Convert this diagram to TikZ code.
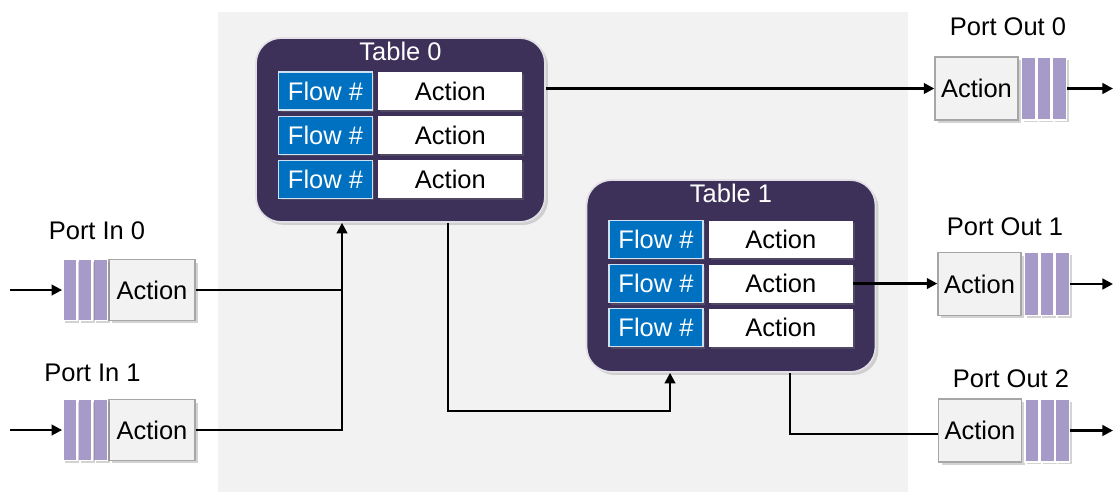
\documentclass[tikz,border=0pt]{standalone}
\usepackage{fontspec}
\setmainfont{Liberation Sans}
\usetikzlibrary{arrows.meta, positioning, shadows}
\definecolor{tablepurple}{HTML}{3D3059}
\definecolor{flowblue}{HTML}{0070C0}
\definecolor{queuepurple}{HTML}{A69AC9}
\definecolor{panelgray}{HTML}{F2F2F2}
\definecolor{edgegray}{HTML}{A6A6A6}

\begin{document}
\begin{tikzpicture}[
    x=0.02cm, y=-0.02cm,
    every node/.style={font=\fontsize{14.5}{17}\selectfont, inner sep=0pt},
    tablebox/.style={draw=white!85!tablepurple, line width=1pt, fill=tablepurple, rounded corners=0.5cm, minimum width=5.78cm, drop shadow={opacity=0.3, shadow xshift=0.06cm, shadow yshift=-0.06cm}},
    tabletitle/.style={text=white},
    flowcell/.style={draw=white!80!flowblue, line width=0.6pt, fill=flowblue, text=white, minimum width=1.88cm, minimum height=0.76cm, drop shadow={opacity=0.3, shadow xshift=0.04cm, shadow yshift=-0.04cm}},
    actcell/.style={fill=white, minimum width=2.88cm, minimum height=0.76cm, drop shadow={opacity=0.3, shadow xshift=0.04cm, shadow yshift=-0.04cm}},
    portact/.style={draw=edgegray, fill=panelgray, line width=0.8pt, minimum width=1.72cm, minimum height=1.22cm, drop shadow={opacity=0.35, shadow xshift=0.06cm, shadow yshift=-0.06cm}},
    qbar/.style={draw=white, fill=queuepurple, line width=0.8pt, minimum width=0.28cm, minimum height=1.22cm, drop shadow={opacity=0.35, shadow xshift=0.05cm, shadow yshift=-0.05cm}},
    wire/.style={line width=1.4pt},
    arrow/.style={wire, -{Triangle[length=6pt, width=6pt]}}
]
\useasboundingbox (0,0) rectangle (1114,493);

% Panel
\fill[panelgray] (218,12) rectangle (908,492);

% Table 0
\node[tablebox, minimum height=3.68cm] (t0) at (400.5,130) {};
\node[tabletitle] (t0title) at ([yshift=-0.28cm]t0.north) {Table 0};
\node[flowcell] (t0f1) at (325.5,91) {Flow \#};
\node[actcell, right=0.1cm of t0f1] (t0a1) {Action};
\node[flowcell, below=0.1cm of t0f1] (t0f2) {Flow \#};
\node[actcell, right=0.1cm of t0f2] (t0a2) {Action};
\node[flowcell, below=0.1cm of t0f2] (t0f3) {Flow \#};
\node[actcell, right=0.1cm of t0f3] (t0a3) {Action};

% Table 1
\node[tablebox, minimum height=3.84cm] (t1) at (731,276) {};
\node[tabletitle] (t1title) at ([yshift=-0.28cm]t1.north) {Table 1};
\node[flowcell] (t1f1) at (656,239.5) {Flow \#};
\node[actcell, right=0.1cm of t1f1] (t1a1) {Action};
\node[flowcell, below=0.1cm of t1f1] (t1f2) {Flow \#};
\node[actcell, right=0.1cm of t1f2] (t1a2) {Action};
\node[flowcell, below=0.1cm of t1f2] (t1f3) {Flow \#};
\node[actcell, right=0.1cm of t1f3] (t1a3) {Action};

% Input ports
\node (in0lbl) at (97,231) {Port In 0};
\node[portact] (in0act) at (152,290) {Action};
\node[qbar, left=0pt of in0act] (in0q3) {};
\node[qbar, left=0pt of in0q3] (in0q2) {};
\node[qbar, left=0pt of in0q2] (in0q1) {};

\node (in1lbl) at (92.5,373) {Port In 1};
\node[portact] (in1act) at (152,430) {Action};
\node[qbar, left=0pt of in1act] (in1q3) {};
\node[qbar, left=0pt of in1q3] (in1q2) {};
\node[qbar, left=0pt of in1q2] (in1q1) {};

% Output ports
\node (out0lbl) at (1008,27) {Port Out 0};
\node[portact, minimum width=1.66cm, minimum height=1.26cm] (out0act) at (976.5,88.5) {Action};
\node[qbar, minimum height=1.26cm, right=0.04cm of out0act] (out0q1) {};
\node[qbar, minimum height=1.26cm, right=0pt of out0q1] (out0q2) {};
\node[qbar, minimum height=1.26cm, right=0pt of out0q2] (out0q3) {};

\node (out1lbl) at (1005,227) {Port Out 1};
\node[portact, minimum width=1.66cm, minimum height=1.26cm] (out1act) at (979.5,284) {Action};
\node[qbar, minimum height=1.26cm, right=0.04cm of out1act] (out1q1) {};
\node[qbar, minimum height=1.26cm, right=0pt of out1q1] (out1q2) {};
\node[qbar, minimum height=1.26cm, right=0pt of out1q2] (out1q3) {};

\node (out2lbl) at (1011,379) {Port Out 2};
\node[portact, minimum width=1.66cm, minimum height=1.26cm] (out2act) at (980,430.5) {Action};
\node[qbar, minimum height=1.26cm, right=0.04cm of out2act] (out2q1) {};
\node[qbar, minimum height=1.26cm, right=0pt of out2q1] (out2q2) {};
\node[qbar, minimum height=1.26cm, right=0pt of out2q2] (out2q3) {};

% Wire ends
\coordinate (in0src) at (10,290);
\coordinate (in1src) at (10,430);
\coordinate (out0dst) at (1113,88.5);
\coordinate (out1dst) at (1113,284);
\coordinate (out2dst) at (1113,430.5);
\coordinate (merge) at (342,290);
\coordinate (t0out) at ([xshift=0.95cm]t0.south);
\coordinate (t1in) at ([xshift=-1.22cm]t1.south);
\coordinate (t1out) at ([xshift=1.18cm]t1.south);

% Arrows
\draw[arrow] (in0src) -- (in0q1);
\draw[arrow] (in1src) -- (in1q1);
\draw[wire] (in0act) -- (merge);
\draw[arrow] (in1act) -| (merge) -- (merge |- t0.south);
\draw[arrow] (t0.east |- out0act) -- (out0act);
\draw[arrow] (t0out) -- ++(0,188) -| (t1in);
\draw[arrow] (t1a2.east) -- (out1act.west |- t1a2);
\draw[wire] (t1out) |- ([yshift=-0.07cm]out2act.west);
\draw[arrow] (out0q3) -- (out0dst);
\draw[arrow] (out1q3) -- (out1dst);
\draw[arrow] (out2q3) -- (out2dst);

\end{tikzpicture}
\end{document}
